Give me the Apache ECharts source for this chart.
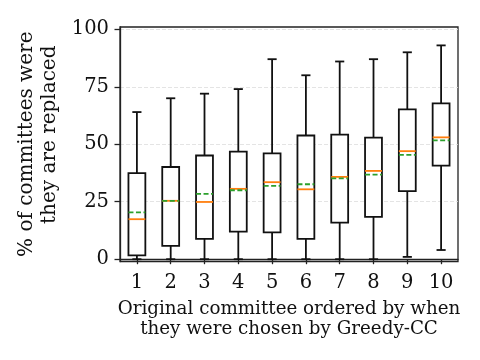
<!DOCTYPE html>
<html>
<head>
<meta charset="utf-8">
<script src="https://cdn.jsdelivr.net/npm/echarts@6/dist/echarts.min.js"></script>
<style>
  html, body { margin: 0; padding: 0; background: #fff; }
  #chart { width: 480px; height: 360px; }
</style>
</head>
<body>
<div id="chart"></div>
<script>
// datos
const categories = ['1', '2', '3', '4', '5', '6', '7', '8', '9', '10'];
const whiskerLow = [0, 0, 0, 0, 0, 0, 0, 0, 1, 4];
const q1 = [1.7, 5.8, 8.8, 12.0, 11.7, 8.8, 15.9, 18.4, 29.6, 40.7];
const median = [17.4, 25.4, 24.9, 30.6, 33.5, 30.4, 35.8, 38.4, 47.0, 53.0];
const q3 = [37.4, 40.1, 45.1, 46.8, 46.0, 53.8, 54.2, 52.9, 65.2, 67.8];
const whiskerHigh = [64, 70, 72, 74, 87, 80, 86, 87, 90, 93];
const mean = [20.4, 25.4, 28.4, 30.0, 31.9, 32.6, 35.2, 36.8, 45.4, 51.7];
const yTicks = [0, 25, 50, 75, 100];

const font = 'DejaVu Serif';

// una fila por caja: [x, min, q1, mediana, q3, max, media]
const boxData = categories.map((c, i) => [i, whiskerLow[i], q1[i], median[i], q3[i], whiskerHigh[i], mean[i]]);

const renderBox = (params, api) => {
  const x = api.value(0);
  const pLow = api.coord([x, api.value(1)]);
  const pQ1 = api.coord([x, api.value(2)]);
  const pMed = api.coord([x, api.value(3)]);
  const pQ3 = api.coord([x, api.value(4)]);
  const pHigh = api.coord([x, api.value(5)]);
  const pMean = api.coord([x, api.value(6)]);
  const bw = api.size([1, 0])[0] * 0.5;
  const cap = bw * 0.27;
  const cx = pQ1[0];
  const black = { stroke: '#111', lineWidth: 1.8, fill: null };
  return {
    type: 'group',
    children: [
      { type: 'line', shape: { x1: cx, y1: pQ1[1], x2: cx, y2: pLow[1] }, style: black },
      { type: 'line', shape: { x1: cx, y1: pQ3[1], x2: cx, y2: pHigh[1] }, style: black },
      { type: 'line', shape: { x1: cx - cap, y1: pLow[1], x2: cx + cap, y2: pLow[1] }, style: black },
      { type: 'line', shape: { x1: cx - cap, y1: pHigh[1], x2: cx + cap, y2: pHigh[1] }, style: black },
      { type: 'rect', shape: { x: cx - bw / 2, y: pQ3[1], width: bw, height: pQ1[1] - pQ3[1] }, style: { stroke: '#111', lineWidth: 1.8, fill: '#fff' } },
      { type: 'line', shape: { x1: cx - bw / 2, y1: pMed[1], x2: cx + bw / 2, y2: pMed[1] }, style: { stroke: '#ff7f0e', lineWidth: 1.8 } },
      { type: 'line', shape: { x1: cx - bw / 2, y1: pMean[1], x2: cx + bw / 2, y2: pMean[1] }, style: { stroke: '#2ca02c', lineWidth: 1.8, lineDash: [5, 2.5] } }
    ]
  };
};

const chart = echarts.init(document.getElementById('chart'));
chart.setOption({
  animation: false,
  grid: { left: 120, right: 22, top: 27, bottom: 98.5, show: true, borderColor: '#222', borderWidth: 1.3, backgroundColor: 'transparent' },
  xAxis: {
    type: 'category',
    data: categories,
    boundaryGap: true,
    axisLine: { show: true, lineStyle: { color: '#222', width: 1.3 } },
    axisTick: { show: true, alignWithLabel: true, length: 5, lineStyle: { color: '#222', width: 1.3 } },
    axisLabel: { color: '#111', fontFamily: font, fontSize: 19.5, margin: 11 },
    name: 'Original committee ordered by when\nthey were chosen by Greedy-CC',
    nameLocation: 'middle',
    nameGap: 37.5,
    nameTextStyle: { color: '#111', fontFamily: font, fontSize: 18.3, lineHeight: 20 }
  },
  yAxis: {
    type: 'value',
    min: -1,
    max: 101,
    axisLine: { show: true, lineStyle: { color: '#222', width: 1.3 } },
    axisTick: { show: true, length: 5.5, lineStyle: { color: '#222', width: 1.3 }, customValues: yTicks },
    axisLabel: { color: '#111', fontFamily: font, fontSize: 19.5, margin: 11, customValues: yTicks },
    splitLine: { show: true, lineStyle: { color: '#ddd', type: [4, 2], width: 0.8 } },
    name: '% of committees were\n\u00a0\u00a0\u00a0they are replaced',
    nameLocation: 'middle',
    nameGap: 55.5,
    nameTextStyle: { color: '#111', fontFamily: font, fontSize: 20, lineHeight: 23 }
  },
  series: [{
    type: 'custom',
    renderItem: renderBox,
    encode: { x: 0, y: [1, 2, 3, 4, 5, 6] },
    data: boxData
  }]
});
</script>
</body>
</html>
